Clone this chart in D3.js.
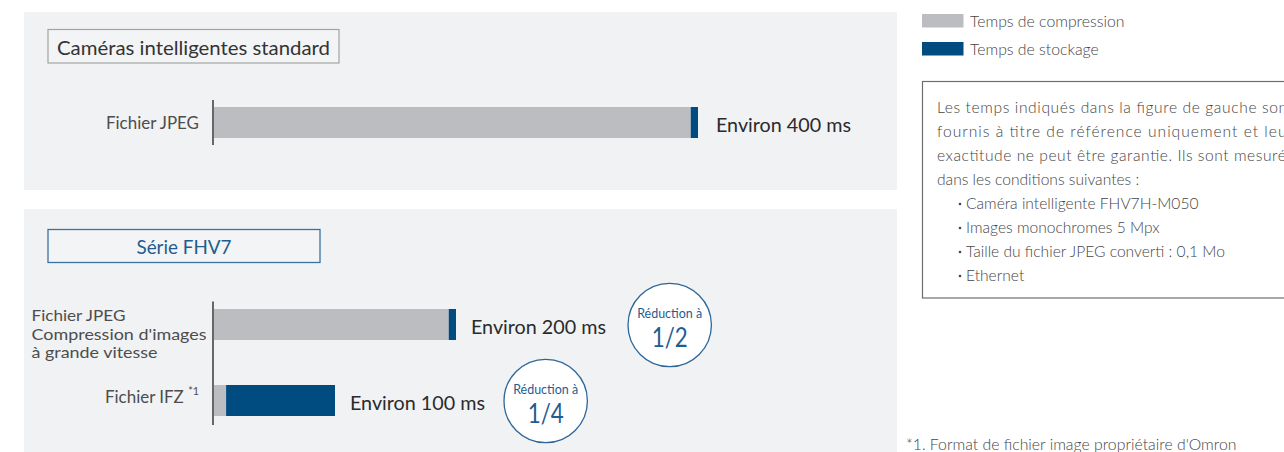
<!DOCTYPE html>
<html>
<head>
<meta charset="utf-8">
<script src="https://cdn.jsdelivr.net/npm/d3@7"></script>
<style>
  html, body { margin: 0; padding: 0; background: #ffffff; overflow: hidden; }
  svg { display: block; font-family: "Lato", "Open Sans", sans-serif; }
</style>
</head>
<body>
<svg id="chart" width="1284" height="452"></svg>
<script>
// ---------- data ----------
const topCategories = ["Fichier JPEG"];
const topCompression = [394];
const topStorage = [6];
const topTotals = ["Environ 400 ms"];

const bottomCategories = ["Fichier JPEG|Compression d'images|à grande vitesse", "Fichier IFZ"];
const bottomCompression = [194, 10];
const bottomStorage = [6, 90];
const bottomTotals = ["Environ 200 ms", "Environ 100 ms"];
const bottomReductions = ["1/2", "1/4"];

const panelTitles = ["Caméras intelligentes standard", "Série FHV7"];
const legendLabels = ["Temps de compression", "Temps de stockage"];
const noteLines = [
  "Les temps indiqués dans la figure de gauche sont",
  "fournis à titre de référence uniquement et leur",
  "exactitude ne peut être garantie. Ils sont mesurés",
  "dans les conditions suivantes :"
];
const noteBullets = [
  "Caméra intelligente FHV7H-M050",
  "Images monochromes 5 Mpx",
  "Taille du fichier JPEG converti : 0,1 Mo",
  "Ethernet"
];
const footnote = "*1. Format de fichier image propriétaire d'Omron";

// ---------- styles ----------
const C = {
  bg: "#f1f2f4",
  gray: "#bcbdc0",
  blue: "#004b80",
  seriesBlue: "#1f5c8f",
  label: "#4d4d4d",
  value: "#2b2b2b",
  note: "#454545"
};

const svg = d3.select("#chart");

// scale for time (ms)
const x = d3.scaleLinear().domain([0, 400]).range([214, 698]);
const yTop = d3.scalePoint().domain(topCategories).range([122.5, 122.5]);
const yBot = d3.scalePoint().domain(bottomCategories).range([324.5, 400.5]);
const barH = 31;
const colorScale = d3.scaleOrdinal().domain(legendLabels).range([C.gray, C.blue]);

function fit(sel, w, adj) {
  sel.attr("textLength", w).attr("lengthAdjust", adj || "spacingAndGlyphs");
  return sel;
}

// ---------- panels ----------
svg.append("rect").attr("x", 24).attr("y", 12).attr("width", 873).attr("height", 178).attr("fill", C.bg);
svg.append("rect").attr("x", 24).attr("y", 209).attr("width", 873).attr("height", 260).attr("fill", C.bg);

// title boxes
svg.append("rect").attr("x", 48).attr("y", 29.5).attr("width", 291).attr("height", 33.5)
  .attr("fill", "#f3f4f6").attr("stroke", "#a3a3a3").attr("stroke-width", 1.2);
fit(svg.append("text").attr("x", 57).attr("y", 46.5).attr("dominant-baseline", "central")
  .attr("font-size", 20).attr("fill", "#333").text(panelTitles[0]), 273);

svg.append("rect").attr("x", 48).attr("y", 229.5).attr("width", 272).attr("height", 33)
  .attr("fill", "#f3f4f6").attr("stroke", "#3a72a2").attr("stroke-width", 1.3);
fit(svg.append("text").attr("x", 184).attr("y", 246).attr("text-anchor", "middle").attr("dominant-baseline", "central")
  .attr("font-size", 19).attr("fill", C.seriesBlue).text(panelTitles[1]), 95);

// ---------- bars ----------
function drawBars(g, cats, comp, stor, y) {
  const rows = cats.map((c, i) => ({ c, comp: comp[i], stor: stor[i], i }));
  g.selectAll("rect.comp").data(rows).join("rect").attr("class", "comp")
    .attr("x", d => x(0)).attr("y", d => y(d.c) - barH / 2)
    .attr("width", d => x(d.comp) - x(0)).attr("height", barH)
    .attr("fill", colorScale(legendLabels[0]));
  g.selectAll("rect.stor").data(rows).join("rect").attr("class", "stor")
    .attr("x", d => x(d.comp)).attr("y", d => y(d.c) - barH / 2)
    .attr("width", d => x(d.comp + d.stor) - x(d.comp)).attr("height", barH)
    .attr("fill", colorScale(legendLabels[1]));
  return rows;
}

const gTop = svg.append("g");
const topRows = drawBars(gTop, topCategories, topCompression, topStorage, yTop);
const gBot = svg.append("g");
const botRows = drawBars(gBot, bottomCategories, bottomCompression, bottomStorage, yBot);

// axis lines
svg.append("line").attr("x1", 213).attr("x2", 213)
  .attr("y1", yTop(topCategories[0]) - 22.5).attr("y2", yTop(topCategories[0]) + 22.5)
  .attr("stroke", "#444").attr("stroke-width", 1.6);
svg.append("line").attr("x1", 213).attr("x2", 213)
  .attr("y1", yBot(bottomCategories[0]) - 23).attr("y2", yBot(bottomCategories[1]) + 24.5)
  .attr("stroke", "#444").attr("stroke-width", 1.6);

// category labels
fit(svg.append("text").attr("x", 199).attr("y", yTop(topCategories[0]))
  .attr("dominant-baseline", "central").attr("text-anchor", "end")
  .attr("font-size", 16.5).attr("fill", C.label).text(topCategories[0]), 93);

const multi = bottomCategories[0].split("|");
const multiW = [94, 175, 126];
multi.forEach((line, i) => {
  fit(svg.append("text").attr("x", 31.5).attr("y", yBot(bottomCategories[0]) - 9.5 + i * 18.5)
    .attr("dominant-baseline", "central")
    .attr("font-size", 15.3).attr("fill", C.label).text(line), multiW[i]);
});
const ifz = svg.append("text").attr("x", 199).attr("y", yBot(bottomCategories[1]) - 3.5)
  .attr("dominant-baseline", "central").attr("text-anchor", "end")
  .attr("font-size", 16.5).attr("fill", C.label);
ifz.append("tspan").text(bottomCategories[1] + " ");
ifz.append("tspan").attr("font-size", 10.5).attr("dy", -6).text("*1");
fit(ifz, 94);

// totals
function total(txt, xEnd, yc, gap) {
  return fit(svg.append("text").attr("x", xEnd + gap).attr("y", yc)
    .attr("dominant-baseline", "central").attr("font-size", 19.5).attr("fill", C.value).text(txt), 135);
}
total(topTotals[0], x(topRows[0].comp + topRows[0].stor), yTop(topCategories[0]) + 2, 18);
botRows.forEach((r, i) => {
  const xe = x(r.comp + r.stor);
  total(bottomTotals[i], xe, yBot(r.c) + 1.5, 15);
});

// reduction badges
const badgeR = 41.7;
const badgeCx = [x(botRows[0].comp + botRows[0].stor) + 15 + 135 + 22 + badgeR,
                 x(botRows[1].comp + botRows[1].stor) + 15 + 135 + 19 + badgeR];
botRows.forEach((r, i) => {
  const cx = badgeCx[i], cy = yBot(r.c) + 0.5;
  svg.append("circle").attr("cx", cx).attr("cy", cy).attr("r", badgeR)
    .attr("fill", "#ffffff").attr("stroke", "#2c6698").attr("stroke-width", 1.3);
  fit(svg.append("text").attr("x", cx).attr("y", cy - 12.5).attr("text-anchor", "middle")
    .attr("dominant-baseline", "central").attr("font-size", 13).attr("fill", C.seriesBlue)
    .text("Réduction à"), 65);
  fit(svg.append("text").attr("x", cx).attr("y", cy + 11.5).attr("text-anchor", "middle")
    .attr("dominant-baseline", "central").attr("font-size", 27).attr("fill", C.seriesBlue)
    .text(bottomReductions[i]), 36);
});

// ---------- legend ----------
legendLabels.forEach((lab, i) => {
  const yc = 20.5 + i * 28;
  svg.append("rect").attr("x", 922).attr("y", yc - 6.5).attr("width", 41.5).attr("height", 13.5)
    .attr("fill", colorScale(lab));
  svg.append("text").attr("x", 970).attr("y", yc).attr("dominant-baseline", "central")
    .attr("font-size", 15.8).attr("font-weight", 300).attr("fill", C.note).text(lab);
});

// ---------- note box ----------
svg.append("rect").attr("x", 922.5).attr("y", 81.5).attr("width", 400).attr("height", 216.5)
  .attr("fill", "none").attr("stroke", "#6e6e6e").attr("stroke-width", 1.2);
noteLines.forEach((line, i) => {
  const t = svg.append("text").attr("x", 937).attr("y", 106.5 + i * 24)
    .attr("dominant-baseline", "central").attr("font-size", 15.6).attr("font-weight", 300)
    .attr("fill", C.note).text(line);
  if (i < 3) fit(t, 356, "spacing");
});
noteBullets.forEach((line, i) => {
  const yc = 202.5 + i * 24;
  svg.append("circle").attr("cx", 960).attr("cy", yc + 1.5).attr("r", 1.3).attr("fill", C.note);
  svg.append("text").attr("x", 966).attr("y", yc)
    .attr("dominant-baseline", "central").attr("font-size", 15.6).attr("font-weight", 300)
    .attr("fill", C.note).text(line);
});

// footnote
svg.append("text").attr("x", 906).attr("y", 443).attr("dominant-baseline", "central")
  .attr("font-size", 15.8).attr("font-weight", 300).attr("fill", C.note).text(footnote);
</script>
</body>
</html>
